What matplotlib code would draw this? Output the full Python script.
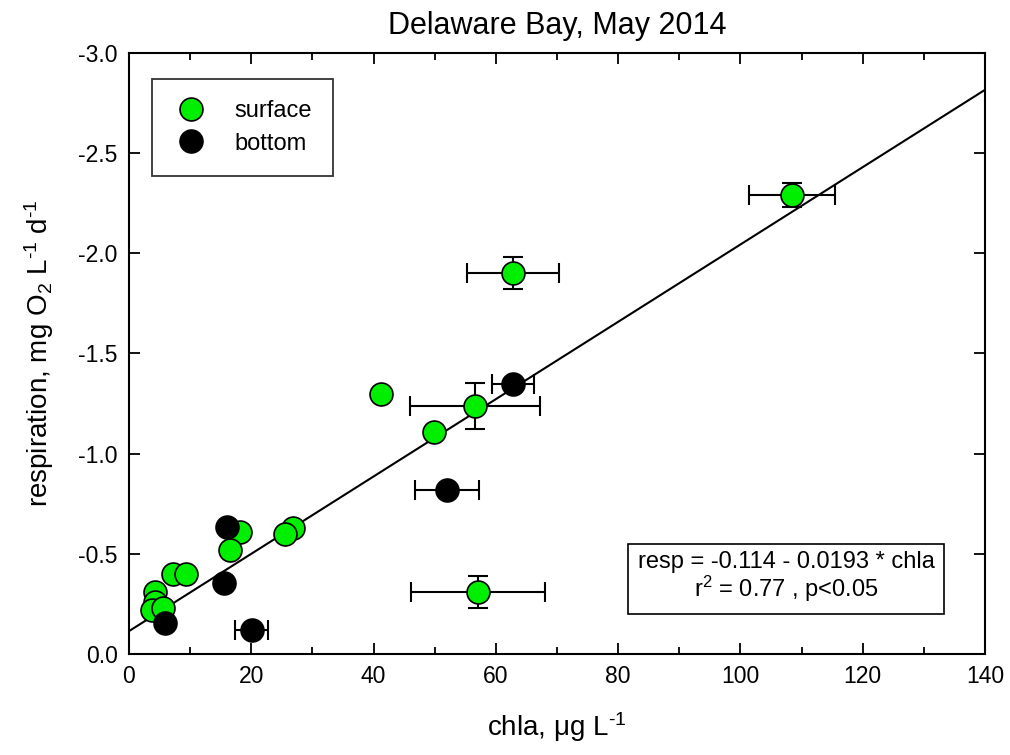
import numpy as np
import matplotlib
matplotlib.use("Agg")
from matplotlib import pyplot as plt

# surface samples: chla (ug/L), respiration (mg O2/L/d), and errors (0 = none)
surf_chla = [108.4, 62.8, 41.3, 56.6, 49.9, 57.1, 26.8, 25.5, 18.2, 16.5,
             7.2, 9.3, 4.3, 4.3, 3.8, 5.6]
surf_resp = [-2.29, -1.90, -1.30, -1.24, -1.11, -0.31, -0.63, -0.60, -0.61, -0.52,
             -0.40, -0.40, -0.31, -0.26, -0.22, -0.23]
surf_xerr = [7.0, 7.5, 0, 10.6, 0, 11.0, 0, 0, 0, 0, 0, 0, 0, 0, 0, 0]
surf_yerr = [0.06, 0.08, 0, 0.115, 0, 0.08, 0, 0, 0, 0, 0, 0, 0, 0, 0, 0]

# bottom samples
bot_chla = [62.8, 52.0, 16.0, 15.5, 5.9, 20.1]
bot_resp = [-1.35, -0.82, -0.635, -0.354, -0.155, -0.12]
bot_xerr = [3.4, 5.2, 0, 0, 0, 2.7]
bot_yerr = [0, 0, 0, 0, 0, 0]

# linear fit
intercept = -0.114
slope = -0.0193
r2 = 0.77

plt.rcParams['font.family'] = ['Liberation Sans', 'DejaVu Sans']
plt.rcParams['mathtext.fontset'] = 'custom'
plt.rcParams['mathtext.rm'] = 'Liberation Sans'
plt.rcParams['mathtext.it'] = 'Liberation Sans'


def draw_errors(ax, x, y, xe, ye):
    x, y, xe, ye = map(np.asarray, (x, y, xe, ye))
    m = xe > 0
    if m.any():
        ax.errorbar(x[m], y[m], xerr=xe[m], fmt='none', ecolor='black',
                    elinewidth=1.5, capsize=7, capthick=1.5, zorder=2)
    m = ye > 0
    if m.any():
        ax.errorbar(x[m], y[m], yerr=ye[m], fmt='none', ecolor='black',
                    elinewidth=1.5, capsize=7, capthick=1.5, zorder=2)


fig = plt.figure(figsize=(10.1, 7.55), dpi=100)
ax = fig.add_axes([0.1277, 0.1338, 0.8475, 0.796])

xs = np.array([0, 140])
ax.plot(xs, intercept + slope * xs, color='black', lw=1.5, zorder=1)

draw_errors(ax, surf_chla, surf_resp, surf_xerr, surf_yerr)
draw_errors(ax, bot_chla, bot_resp, bot_xerr, bot_yerr)

ax.plot(surf_chla, surf_resp, 'o', ms=16.5, mfc='#00ee00', mec='black', mew=1.2,
        label='surface', zorder=3)
ax.plot(bot_chla, bot_resp, 'o', ms=16.5, mfc='black', mec='black', mew=1.2,
        label='bottom', zorder=4)

ax.set_xlim(0, 140)
ax.set_ylim(0, -3.0)
ax.set_xticks(np.arange(0, 141, 20))
ax.set_xticks(np.arange(10, 140, 20), minor=True)
yt = np.arange(0, -3.01, -0.5)
ax.set_yticks(yt)
ax.set_yticklabels(['0.0'] + ['%.1f' % v for v in yt[1:]])
ax.tick_params(which='both', direction='in', top=True, right=True, labelsize=16.5,
               width=1.3, pad=8)
ax.tick_params(which='major', length=8)
ax.tick_params(which='minor', length=5)
for s in ax.spines.values():
    s.set_linewidth(1.5)

ax.set_title('Delaware Bay, May 2014', fontsize=22, pad=14)
ax.set_xlabel(r'chla, $\mu$g L$^{\text{-1}}$', fontsize=20, labelpad=16)
ax.set_ylabel(r'respiration, mg O$_2$ L$^{\text{-1}}$ d$^{\text{-1}}$',
              fontsize=20, labelpad=16)

leg = ax.legend(loc='upper left', bbox_to_anchor=(0.027, 0.957), fontsize=17,
                frameon=True, fancybox=False, edgecolor='black', borderpad=0.9,
                handletextpad=1.1, labelspacing=0.45, borderaxespad=0,
                markerscale=1.0, handlelength=1.5)
leg.get_frame().set_linewidth(1.3)

ax.text(0.768, 0.127,
        'resp = %.3f - %.4f * chla\n$\\mathregular{r^2}$ = %.2f , p<0.05' % (intercept, -slope, r2),
        transform=ax.transAxes, ha='center', va='center', fontsize=17,
        linespacing=1.05,
        bbox=dict(boxstyle='square,pad=0.4', fc='white', ec='black', lw=1.2))

fig.savefig('out.png', dpi=100)
